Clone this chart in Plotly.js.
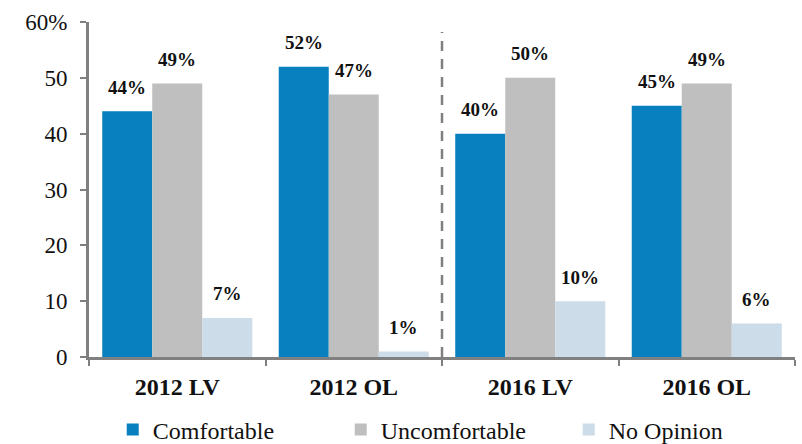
<!DOCTYPE html>
<html><head><meta charset="utf-8">
<script src="https://cdn.plot.ly/plotly-3.0.1.min.js"></script>
<style>body{margin:0;background:#fff}#c{width:802px;height:444px}</style>
</head><body><div id="c"></div>
<script>
const categories = ["2012 LV", "2012 OL", "2016 LV", "2016 OL"];
const comfortable = [44, 52, 40, 45];
const uncomfortable = [49, 47, 50, 49];
const noOpinion = [7, 1, 10, 6];
const seriesNames = ["Comfortable", "Uncomfortable", "No Opinion"];
const seriesColors = ["#0880BF", "#BFBFBF", "#CCDCE8"];
const yTickVals = [0, 10, 20, 30, 40, 50, 60];
const yTickText = ["0", "10", "20", "30", "40", "50", "60%"];

const series = [comfortable, uncomfortable, noOpinion];
const font = "Liberation Serif";
const traces = series.map((vals, i) => ({
  type: "bar", x: categories, y: vals, name: seriesNames[i],
  marker: {color: seriesColors[i]}, hoverinfo: "none"
}));
const annotations = [];
series.forEach((vals, i) => {
  vals.forEach((v, j) => {
    annotations.push({
      x: categories[j], y: v, xref: "x", yref: "y",
      text: "<b>" + v + "%</b>", showarrow: false,
      xshift: (i - 1) * 50, yshift: 24,
      font: {family: font, size: 19, color: "#111"}
    });
  });
});
const layout = {
  width: 802, height: 444,
  font: {family: font, color: "#111"},
  margin: {l: 89, r: 7, t: 22, b: 87},
  paper_bgcolor: "#fff", plot_bgcolor: "#fff",
  barmode: "group", bargap: 0.15, bargroupgap: 0,
  showlegend: true,
  legend: {orientation: "h", x: 0.567, xref: "container", xanchor: "center",
    y: 0.032, yref: "container", yanchor: "middle",
    font: {family: font, size: 24, color: "#111"},
    itemwidth: 30, entrywidth: 183, entrywidthmode: "pixels", tracegroupgap: 0},
  xaxis: {
    showline: true, linecolor: "#808080", linewidth: 3,
    ticks: "outside", tickson: "boundaries", ticklen: 6, tickwidth: 2, tickcolor: "#808080",
    ticklabelstandoff: 6,
    tickfont: {family: font, size: 24, color: "#111", weight: "bold"},
    showgrid: false, zeroline: false, fixedrange: true
  },
  yaxis: {
    range: [0, 60], tickvals: yTickVals, ticktext: yTickText,
    showline: true, linecolor: "#808080", linewidth: 3,
    ticks: "outside", ticklen: 6, tickwidth: 2, tickcolor: "#808080",
    ticklabelstandoff: 8,
    tickfont: {family: font, size: 23, color: "#111"},
    showgrid: false, zeroline: false, fixedrange: true
  },
  shapes: [{
    type: "line", xref: "x", yref: "paper", x0: 1.5, x1: 1.5, y0: 0, y1: 0.97,
    line: {color: "#808080", width: 2.5, dash: "10px,8px"}
  }],
  annotations: annotations
};
Plotly.newPlot("c", traces, layout, {displayModeBar: false, staticPlot: true});
</script></body></html>
